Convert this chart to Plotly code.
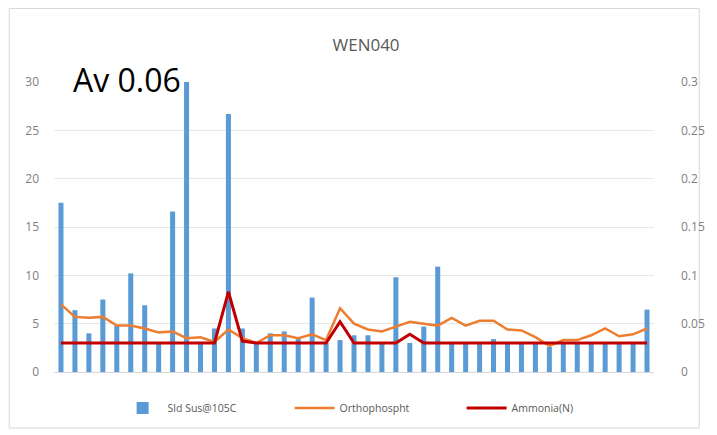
import plotly.graph_objects as go

samples = list(range(1, 44))
sld_sus = [17.5, 6.4, 4.0, 7.5, 4.8, 10.2, 6.9, 3.0, 16.6, 30.0,
           3.0, 4.5, 26.7, 4.5, 3.0, 4.0, 4.2, 3.5, 7.7, 3.0,
           3.3, 3.8, 3.8, 3.0, 9.8, 3.0, 4.7, 10.9, 3.0, 3.0,
           3.0, 3.4, 3.0, 3.0, 3.0, 2.6, 3.0, 3.0, 3.0, 3.0,
           3.0, 3.0, 6.45]
orthophos = [0.070, 0.057, 0.056, 0.057, 0.048, 0.048, 0.045, 0.041, 0.042, 0.035,
             0.036, 0.031, 0.044, 0.035, 0.030, 0.038, 0.038, 0.035, 0.039, 0.033,
             0.066, 0.050, 0.044, 0.042, 0.047, 0.052, 0.050, 0.048, 0.056, 0.048,
             0.053, 0.053, 0.044, 0.043, 0.036, 0.027, 0.033, 0.033, 0.038, 0.045,
             0.037, 0.039, 0.045]
ammonia = [0.03, 0.03, 0.03, 0.03, 0.03, 0.03, 0.03, 0.03, 0.03, 0.03,
           0.03, 0.03, 0.083, 0.032, 0.03, 0.03, 0.03, 0.03, 0.03, 0.03,
           0.052, 0.03, 0.03, 0.03, 0.03, 0.039, 0.03, 0.03, 0.03, 0.03,
           0.03, 0.03, 0.03, 0.03, 0.03, 0.03, 0.03, 0.03, 0.03, 0.03,
           0.03, 0.03, 0.03]
left_ticks = [0, 5, 10, 15, 20, 25, 30]
right_ticks = [0, 0.05, 0.1, 0.15, 0.2, 0.25, 0.3]
right_labels = ["0", "0.05", "0.1", "0.15", "0.2", "0.25", "0.3"]

fig = go.Figure()
fig.add_trace(go.Bar(x=samples, y=sld_sus, name="Sld Sus@105C",
                     marker=dict(color="#5B9BD5", line=dict(width=0))))
fig.add_trace(go.Scatter(x=samples, y=orthophos, name="Orthophospht", yaxis="y2",
                         mode="lines", line=dict(color="#ED7D31", width=2.5)))
fig.add_trace(go.Scatter(x=samples, y=ammonia, name="Ammonia(N)", yaxis="y2",
                         mode="lines", line=dict(color="#C00000", width=3)))

PW, PH = 610, 290
fig.update_layout(
    width=709, height=427,
    margin=dict(l=46, r=53, t=74, b=63),
    paper_bgcolor="white", plot_bgcolor="white",
    font=dict(family="Open Sans", color="#808080", size=12),
    title=dict(text="WEN040", x=0.505, xanchor="center", y=0.913, yanchor="middle",
               font=dict(size=17, color="#595959")),
    bargap=0.64,
    showlegend=True,
    legend=dict(orientation="h", x=0.536, xanchor="center", y=-0.124, yanchor="middle",
                font=dict(size=10.5, color="#595959"), itemwidth=40,
                entrywidth=117, entrywidthmode="pixels",
                traceorder="normal"),
    xaxis=dict(range=[0.5, 43.5], showticklabels=False, showgrid=False,
               zeroline=False, showline=True, linecolor="#D9D9D9", linewidth=1,
               ticks=""),
    yaxis=dict(range=[0, 30], tickvals=left_ticks, showgrid=True,
               gridcolor="#E6E6E6", gridwidth=1, zeroline=False, showline=False,
               ticks="", ticklabelstandoff=14, tickfont=dict(size=12, color="#808080")),
    yaxis2=dict(range=[0, 0.3], tickvals=right_ticks, ticktext=right_labels,
                overlaying="y", side="right", showgrid=False, zeroline=False,
                showline=False, ticks="", ticklabelstandoff=26,
                tickfont=dict(size=12, color="#808080")),
    annotations=[dict(text="Av 0.06", xref="paper", yref="paper", x=0.029, y=1.007,
                      xanchor="left", yanchor="middle", showarrow=False,
                      font=dict(family="Open Sans", size=32, color="black"))],
    shapes=[dict(type="rect", xref="paper", yref="paper",
                 x0=(-46 + 0.5) / PW, x1=(702 - 46) / PW,
                 y0=(364 - 420) / PH, y1=(364 - 0.5) / PH,
                 line=dict(color="#D9D9D9", width=1), fillcolor="rgba(0,0,0,0)",
                 layer="below")],
)

fig.write_html("out.html")
